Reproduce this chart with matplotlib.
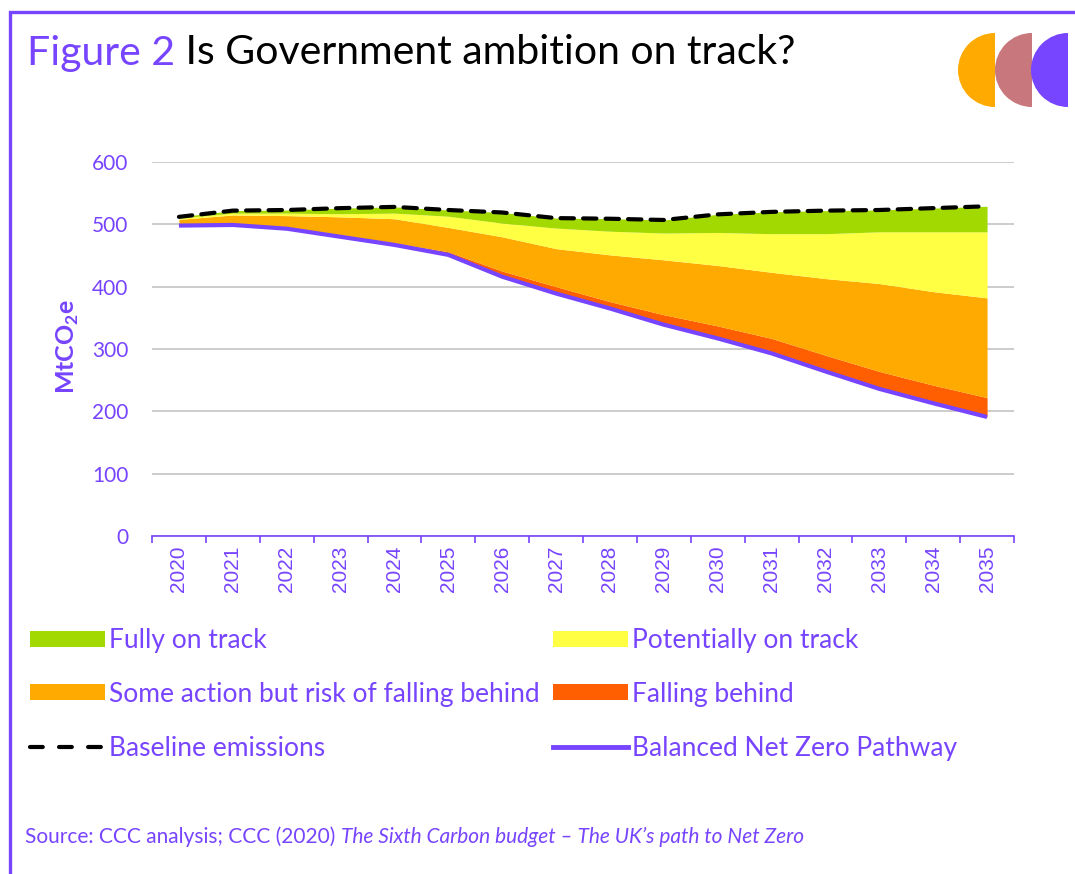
import numpy as np
import matplotlib.pyplot as plt
from matplotlib.patches import Wedge, Patch
from matplotlib.lines import Line2D

# data (MtCO2e)
years = [str(y) for y in range(2020, 2036)]
net_zero = [498, 499, 493, 480, 467, 451, 416, 389, 365, 339, 317, 293, 264, 236, 213, 191]
falling_behind = [0, 0, 1, 1, 3, 5, 9, 11, 11, 16, 20, 24, 26, 28, 29, 31]
some_action = [10, 16, 20, 31, 39, 39, 55, 61, 75, 88, 97, 106, 123, 141, 150, 160]
potentially = [2, 3, 4, 5, 9, 18, 22, 33, 38, 43, 53, 62, 72, 83, 96, 106]
fully = [2, 4, 5, 9, 10, 10, 17, 16, 20, 21, 29, 35, 37, 35, 38, 41]
baseline = [512, 522, 523, 526, 528, 523, 519, 510, 509, 507, 516, 520, 522, 523, 526, 529]

band_labels = ["Falling behind", "Some action but risk of falling behind",
               "Potentially on track", "Fully on track"]

PURPLE = '#7744FF'
GREEN = '#A2D900'
YELLOW = '#FFFF44'
ORANGE = '#FFAA00'
RED = '#FF5F00'
PINK = '#C8787D'
GRID = '#BFBFBF'

plt.rcParams['font.family'] = ['Lato', 'DejaVu Sans']
plt.rcParams['mathtext.fontset'] = 'custom'
plt.rcParams['mathtext.rm'] = 'Lato'
plt.rcParams['mathtext.bf'] = 'Lato:bold'

fig = plt.figure(figsize=(10.75, 8.74), dpi=100)

# background layer in pixel units: frame, logo, title, source
bg = fig.add_axes([0, 0, 1, 1])
bg.set_xlim(0, 1075)
bg.set_ylim(874, 0)
bg.axis('off')
bg.plot([10, 10, 1075], [874, 12, 12], color=PURPLE, lw=2.4, solid_joinstyle='miter')
for cx, col in zip([995, 1032, 1068], [ORANGE, PINK, PURPLE]):
    bg.add_patch(Wedge((cx, 70), 37, 90, 270, color=col, lw=0))

t1 = bg.text(27, 53, "Figure 2", color=PURPLE, fontsize=29.5, va='center', ha='left')
bg.annotate(" Is Government ambition on track?", xy=(1, 0), xycoords=t1,
            color='black', fontsize=29.5, va='bottom', ha='left')

s1 = bg.text(25, 837, "Source: CCC analysis; CCC (2020) ", color=PURPLE, fontsize=15,
             va='center', ha='left')
bg.annotate("The Sixth Carbon budget \u2013 The UK\u2019s path to Net Zero", xy=(1, 0),
            xycoords=s1, color=PURPLE, fontsize=15, style='italic', va='bottom', ha='left')

# chart
ax = fig.add_axes([152 / 1075, 1 - 536 / 874, 862 / 1075, 374 / 874])
x = np.arange(len(years))
levels = np.cumsum([net_zero, falling_behind, some_action, potentially, fully], axis=0)
band_colors = [RED, ORANGE, YELLOW, GREEN]
for i, col in enumerate(band_colors):
    ax.fill_between(x, levels[i], levels[i + 1], color=col, lw=0, zorder=2)

ax.plot(x, baseline, color='black', lw=3, ls=(0, (3.2, 2.2)), dash_capstyle='round', zorder=4)
ax.plot(x, net_zero, color=PURPLE, lw=3, solid_capstyle='butt', zorder=3)

ax.set_xlim(-0.5, len(years) - 0.5)
ax.set_ylim(0, 600)
ax.set_yticks(range(0, 601, 100))
ax.grid(axis='y', color=GRID, lw=1.1, zorder=0)
ax.set_axisbelow(True)
for s in ['top', 'right', 'left']:
    ax.spines[s].set_visible(False)
ax.spines['bottom'].set_color(PURPLE)
ax.spines['bottom'].set_linewidth(1.2)
ax.spines['bottom'].set_zorder(5)

ax.set_xticks(x)
ax.set_xticklabels(years, rotation=90, fontsize=15, color=PURPLE,
                   family=['Liberation Sans', 'DejaVu Sans'])
ax.set_xticks(np.arange(-0.5, len(years)), minor=True)
ax.tick_params(axis='x', which='major', length=0, pad=7)
ax.tick_params(axis='x', which='minor', length=5, width=1.2, color=PURPLE)
ax.tick_params(axis='y', length=0, pad=17, labelsize=15, labelcolor=PURPLE)

ax.text(-0.0975, 0.508, r'MtCO$_\mathbf{2}$e', transform=ax.transAxes, rotation=90,
        ha='center', va='center', fontsize=18, fontweight='bold', color=PURPLE)

# legend, two columns placed separately
h_fully = Patch(color=GREEN, lw=0)
h_pot = Patch(color=YELLOW, lw=0)
h_some = Patch(color=ORANGE, lw=0)
h_fall = Patch(color=RED, lw=0)
h_base = Line2D([], [], color='black', lw=3, ls=(0, (3.07, 3.9)), dash_capstyle='round')
h_nz = Line2D([], [], color=PURPLE, lw=3.5)

leg_kw = dict(frameon=False, loc='upper left', fontsize=19, labelcolor=PURPLE,
              handlelength=2.84, handleheight=0.55, handletextpad=0.15,
              labelspacing=1.09, borderpad=0, borderaxespad=0)
leg1 = fig.legend([h_fully, h_some, h_base],
                  ["Fully on track", band_labels[1], "Baseline emissions"],
                  bbox_to_anchor=(30 / 1075, 1 - 628 / 874), **leg_kw)
leg2 = fig.legend([h_pot, h_fall, h_nz],
                  [band_labels[2], band_labels[0], "Balanced Net Zero Pathway"],
                  bbox_to_anchor=(553 / 1075, 1 - 628 / 874), **leg_kw)

fig.savefig('out.png', dpi=100)
